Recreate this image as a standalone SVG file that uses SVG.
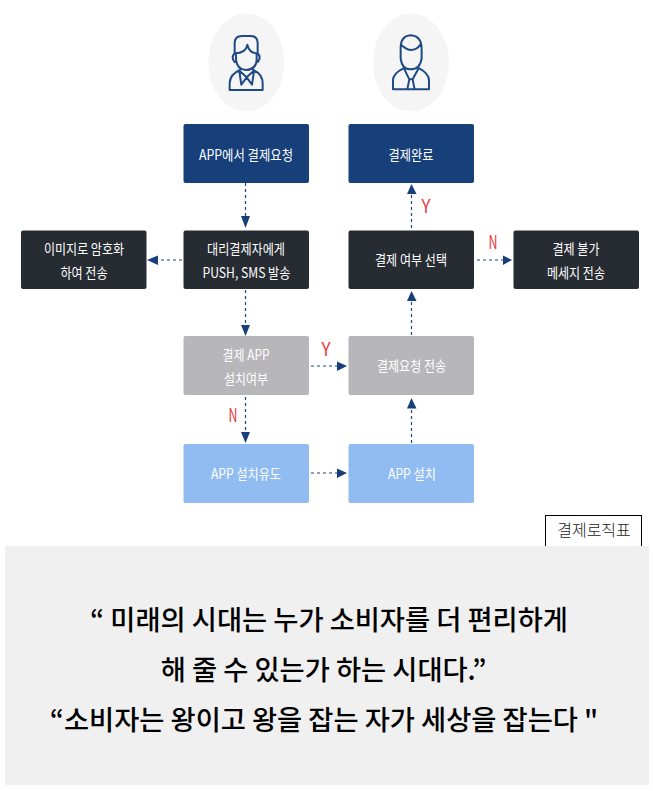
<svg xmlns="http://www.w3.org/2000/svg" width="653" height="791" viewBox="0 0 653 791">
<style>
text{font-family:"Noto Sans CJK KR","Noto Sans",sans-serif;text-anchor:middle}
.n text{font-size:14px;fill:#fff}
.navy{fill:#173f7a}.dark{fill:#272b32}.gray{fill:#b7b7bb}.blue{fill:#91bcf2}
.c{stroke:#1d4580;stroke-width:1.2;stroke-dasharray:3 3;fill:none}
.h{fill:#173f7a;stroke:none}
.l{font-size:18px;fill:#f0353f}
.ic{fill:none;stroke:#1f4a85;stroke-width:6;stroke-linejoin:round;stroke-linecap:round}
.q{font-size:27.300px;font-weight:500;fill:#000}
</style>
<rect width="653" height="791" fill="#fff"/>
<g id="user-left">
<ellipse cx="246.300" cy="62.500" rx="38" ry="49" fill="#f5f5f6"/>
<path class="ic" transform="translate(190 0) scale(.3333)" d="M134 160V130Q134 108 156 108H182Q203 108 203 130V160M134 160Q168 160 172 134Q178 160 203 160M134 160Q122 172 134 186M203 160Q215 172 203 186M138 160V178Q140 208 168 210Q200 208 200 178V160M150 210Q120 222 119 250V270H218V250Q218 222 190 210M148 214L154 254L170 232L186 254L192 214M150 214L170 232L190 214"/>
</g>
<g id="user-right">
<ellipse cx="411" cy="62.500" rx="38" ry="49" fill="#f5f5f6"/>
<path class="ic" transform="translate(190 0) scale(.3333)" d="M632 150Q630 108 662 106Q696 108 695 150V175Q690 208 662 208Q636 208 632 175ZM634 135Q650 150 664 150Q685 148 693 130M640 205Q610 220 609 240V268H717V240Q716 220 688 205M642 205L658 238H668L686 205M658 238L652 268M668 238L674 268"/>
</g>
<g id="connectors">
<path class="c" d="M245.500 183V217"/><path class="h" d="M241 216H250L245.500 228Z"/>
<path class="c" d="M182 260H158"/><path class="h" d="M158 255.500V265L147 260Z"/>
<path class="c" d="M245.500 290V325"/><path class="h" d="M241 325H250L245.500 336Z"/>
<path class="c" d="M245.500 397V433"/><path class="h" d="M241 432H250L245.500 443Z"/>
<path class="c" d="M311 366H338"/><path class="h" d="M337 361.500V371L347 366Z"/>
<path class="c" d="M311 473H338"/><path class="h" d="M337 468.500V478L347 473Z"/>
<path class="c" d="M411.500 443V410"/><path class="h" d="M407 408.500H416.500L411.500 398Z"/>
<path class="c" d="M411.500 335V302"/><path class="h" d="M407 301H416.500L411.500 291Z"/>
<path class="c" d="M411.500 228V195"/><path class="h" d="M407 194H416.500L411.500 184Z"/>
<path class="c" d="M477 260H503"/><path class="h" d="M503 255.500V265L512 260Z"/>
<text class="l" x="426" y="213" textLength="9" lengthAdjust="spacingAndGlyphs">Y</text>
<text class="l" x="493" y="249" textLength="9" lengthAdjust="spacingAndGlyphs">N</text>
<text class="l" x="326" y="356" textLength="9" lengthAdjust="spacingAndGlyphs">Y</text>
<text class="l" x="233" y="422" textLength="9" lengthAdjust="spacingAndGlyphs">N</text>
</g>
<g class="n" id="node-request"><rect class="navy" x="183.500" y="124" width="125.500" height="59" rx="2"/><text x="246" y="160" textLength="94" lengthAdjust="spacingAndGlyphs">APP에서 결제요청</text></g>
<g class="n" id="node-done"><rect class="navy" x="348.500" y="124" width="125.500" height="59" rx="2"/><text x="411" y="160" textLength="45" lengthAdjust="spacingAndGlyphs">결제완료</text></g>
<g class="n" id="node-encrypt"><rect class="dark" x="21" y="230.500" width="125.500" height="58.500" rx="2"/><text x="84" y="254" textLength="80" lengthAdjust="spacingAndGlyphs">이미지로 암호화</text><text x="84" y="278" textLength="47" lengthAdjust="spacingAndGlyphs">하여 전송</text></g>
<g class="n" id="node-push"><rect class="dark" x="183.500" y="230.500" width="125.500" height="58.500" rx="2"/><text x="246" y="254" textLength="78" lengthAdjust="spacingAndGlyphs">대리결제자에게</text><text x="246.500" y="278" textLength="88" lengthAdjust="spacingAndGlyphs">PUSH, SMS 발송</text></g>
<g class="n" id="node-select"><rect class="dark" x="348.500" y="230.500" width="125.500" height="58.500" rx="2"/><text x="411" y="265" textLength="72" lengthAdjust="spacingAndGlyphs">결제 여부 선택</text></g>
<g class="n" id="node-fail"><rect class="dark" x="513.500" y="230.500" width="125.500" height="58.500" rx="2"/><text x="576" y="254" textLength="47" lengthAdjust="spacingAndGlyphs">결제 불가</text><text x="576" y="278" textLength="58" lengthAdjust="spacingAndGlyphs">메세지 전송</text></g>
<g class="n" id="node-installed"><rect class="gray" x="183.500" y="336" width="125.500" height="59" rx="2"/><text x="246" y="360" textLength="47" lengthAdjust="spacingAndGlyphs">결제 APP</text><text x="246" y="384" textLength="44" lengthAdjust="spacingAndGlyphs">설치여부</text></g>
<g class="n" id="node-send"><rect class="gray" x="348.500" y="336" width="125.500" height="59" rx="2"/><text x="411.500" y="371" textLength="69" lengthAdjust="spacingAndGlyphs">결제요청 전송</text></g>
<g class="n" id="node-guide"><rect class="blue" x="183.500" y="444" width="125.500" height="59" rx="2"/><text x="246" y="479" textLength="70" lengthAdjust="spacingAndGlyphs">APP 설치유도</text></g>
<g class="n" id="node-install"><rect class="blue" x="348.500" y="444" width="125.500" height="59" rx="2"/><text x="412" y="479" textLength="48" lengthAdjust="spacingAndGlyphs">APP 설치</text></g>
<g id="caption"><rect x="545.500" y="515.500" width="96" height="31" fill="#fff" stroke="#000"/><text x="594" y="536" font-size="16" font-weight="300" fill="#222">결제로직표</text></g>
<g id="quote"><rect x="5" y="546" width="644" height="239" fill="#f0f0f0"/>
<text class="q" x="329" y="630">“ 미래의 시대는 누가 소비자를 더 편리하게</text>
<text class="q" x="323.500" y="680">해 줄 수 있는가 하는 시대다.”</text>
<text class="q" x="324" y="730">“소비자는 왕이고 왕을 잡는 자가 세상을 잡는다 "</text></g>
</svg>
